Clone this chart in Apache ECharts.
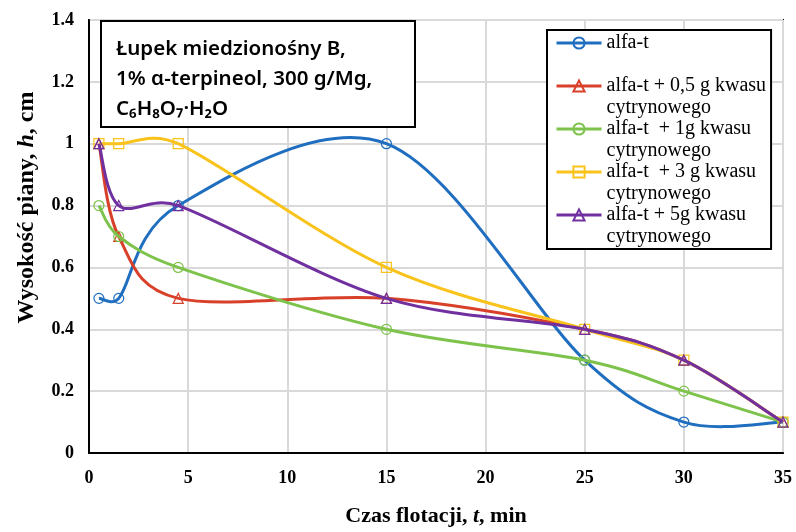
<!DOCTYPE html>
<html>
<head>
<meta charset="utf-8">
<script src="https://cdn.jsdelivr.net/npm/echarts@6/dist/echarts.min.js"></script>
<style>html,body{margin:0;padding:0;background:#fff}#c{width:796px;height:532px}</style>
</head>
<body>
<div id="c"></div>
<script>
const times = [0.5, 1.5, 4.5, 15, 25, 30, 35];
const seriesNames = [
  'alfa-t\n ',
  'alfa-t + 0,5 g kwasu\ncytrynowego',
  'alfa-t  + 1g kwasu\ncytrynowego',
  'alfa-t  + 3 g kwasu\ncytrynowego',
  'alfa-t + 5g kwasu\ncytrynowego'
];
const alfaT = [0.5, 0.5, 0.8, 1.0, 0.3, 0.1, 0.1];
const kwas05 = [1.0, 0.7, 0.5, 0.5, 0.4, 0.3, 0.1];
const kwas1 = [0.8, 0.7, 0.6, 0.4, 0.3, 0.2, 0.1];
const kwas3 = [1.0, 1.0, 1.0, 0.6, 0.4, 0.3, 0.1];
const kwas5 = [1.0, 0.8, 0.8, 0.5, 0.4, 0.3, 0.1];
const values = [alfaT, kwas05, kwas1, kwas3, kwas5];
const colors = ['#1F6EBF', '#D9402A', '#7DC24B', '#F9C31B', '#7030A0'];
const symbols = ['circle', 'triangle', 'circle', 'rect', 'triangle'];

const chart = echarts.init(document.getElementById('c'), null, {renderer: 'canvas'});
const serif = '"Liberation Serif", "Times New Roman", serif';

function dist(a, b) { return Math.hypot(a[0] - b[0], a[1] - b[1]); }
// Spreadsheet-style smoothed curve (Bezier, tangent/6 with arm capped at half segment) from axis pixel positions
function smoothPath(pts) {
  let d = 'M' + pts[0][0] + ',' + pts[0][1];
  for (let i = 0; i < pts.length - 1; i++) {
    const p0 = pts[i - 1] || pts[i], p1 = pts[i], p2 = pts[i + 1], p3 = pts[i + 2] || pts[i + 1];
    const d12 = dist(p1, p2), d02 = dist(p0, p2), d13 = dist(p1, p3);
    const f1 = d02 > 0 ? Math.min(1 / 6, d12 / 2 / d02) : 0;
    const f2 = d13 > 0 ? Math.min(1 / 6, d12 / 2 / d13) : 0;
    const c1x = p1[0] + (p2[0] - p0[0]) * f1, c1y = p1[1] + (p2[1] - p0[1]) * f1;
    const c2x = p2[0] - (p3[0] - p1[0]) * f2, c2y = p2[1] - (p3[1] - p1[1]) * f2;
    d += ' C' + c1x + ',' + c1y + ' ' + c2x + ',' + c2y + ' ' + p2[0] + ',' + p2[1];
  }
  return d;
}

const series = [];
values.forEach((vals, i) => {
  series.push({
    type: 'custom',
    id: 'curve' + i,
    coordinateSystem: 'cartesian2d',
    data: times.map((t, j) => [t, vals[j]]),
    encode: {x: 0, y: 1},
    silent: true,
    z: 2 + i * 2,
    renderItem: function (params, api) {
      if (params.dataIndexInside !== 0) return null;
      const pts = times.map((t, j) => api.coord([t, vals[j]]));
      return {
        type: 'path',
        shape: {pathData: smoothPath(pts)},
        style: {fill: 'none', stroke: colors[i], lineWidth: 3, lineJoin: 'round'}
      };
    }
  });
  series.push({
    name: seriesNames[i],
    type: 'line',
    data: times.map((t, j) => [t, vals[j]]),
    symbol: symbols[i],
    symbolSize: 10,
    showAllSymbol: true,
    color: colors[i],
    lineStyle: {color: colors[i], width: 0},
    itemStyle: {color: 'rgba(255,255,255,0)', borderColor: colors[i], borderWidth: 1.2},
    emphasis: {disabled: true},
    z: 3 + i * 2
  });
});

chart.setOption({
  animation: false,
  backgroundColor: '#fff',
  title: {
    text: 'Łupek miedzionośny B,\n1% α-terpineol, 300 g/Mg,\nC₆H₈O₇·H₂O',
    left: 101, top: 21,
    padding: [13, 43, 3, 15],
    borderColor: '#000', borderWidth: 2,
    backgroundColor: '#fff',
    textStyle: {fontFamily: '"Noto Sans", "Open Sans", sans-serif', fontWeight: 600, fontSize: 20.5, lineHeight: 30, color: '#000'}
  },
  legend: {
    orient: 'vertical',
    left: 547, top: 30,
    padding: [2, 5, 2, 8],
    itemGap: 0,
    itemWidth: 45, itemHeight: 14,
    borderColor: '#000', borderWidth: 2,
    backgroundColor: '#fff',
    lineStyle: {width: 3},
    textStyle: {fontFamily: serif, fontSize: 20, lineHeight: 22, color: '#000', padding: [0, 0, -22, 0], rich: {a: {}}},
    data: seriesNames
  },
  grid: {left: 89, right: 13, top: 20, bottom: 75, show: true, borderColor: '#000', borderWidth: 2},
  xAxis: {
    type: 'value', min: 0, max: 35, interval: 5,
    name: 'Czas flotacji, {i|t}, min',
    nameLocation: 'middle', nameGap: 52,
    nameTextStyle: {fontFamily: serif, fontWeight: 'bold', fontSize: 22, color: '#000',
      rich: {i: {fontFamily: serif, fontWeight: 'bold', fontStyle: 'italic', fontSize: 22, color: '#000'}}},
    axisLine: {lineStyle: {color: '#000', width: 2}},
    axisTick: {show: false},
    axisLabel: {fontFamily: serif, fontWeight: 'bold', fontSize: 18, color: '#000', margin: 16},
    splitLine: {show: true, lineStyle: {color: '#d9d9d9', width: 2}}
  },
  yAxis: {
    type: 'value', min: 0, max: 1.4, interval: 0.2,
    name: 'Wysokość piany, {i|h}, cm',
    nameLocation: 'middle', nameGap: 50, nameRotate: 90,
    nameTextStyle: {fontFamily: serif, fontWeight: 'bold', fontSize: 24, color: '#000', padding: [0, 0, 0, 58],
      rich: {i: {fontFamily: serif, fontWeight: 'bold', fontStyle: 'italic', fontSize: 24, color: '#000'}}},
    axisLine: {show: true, lineStyle: {color: '#000', width: 2}},
    axisTick: {show: false},
    axisLabel: {fontFamily: serif, fontWeight: 'bold', fontSize: 18, color: '#000', margin: 15},
    splitLine: {show: true, lineStyle: {color: '#d9d9d9', width: 2}}
  },
  series: series
});
</script>
</body>
</html>
